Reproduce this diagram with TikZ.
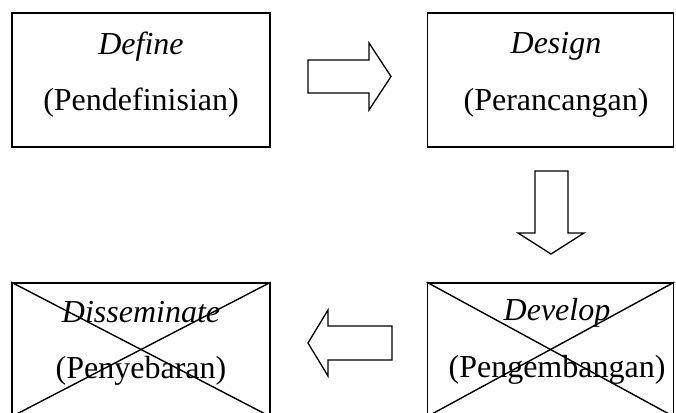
\documentclass[tikz,border=0pt]{standalone}
\usepackage{fontspec}
\setmainfont{Liberation Serif}
\begin{document}
\begin{tikzpicture}[x=1pt,y=-1pt,
  stagebox/.style={draw=black,line width=1.8pt,rectangle,inner sep=0pt},
  crossline/.style={line width=1.4pt},
  blockarrow/.style={draw=black,line width=1.3pt,line join=miter},
  lbl/.style={anchor=base,inner sep=0pt,font=\fontsize{32}{38}\selectfont},
  ilbl/.style={lbl,font=\fontsize{32}{38}\selectfont\itshape}]
\clip (0,0) rectangle (676,412);
\fill[white] (0,0) rectangle (676,412);
% boxes
\node[stagebox,minimum width=258pt,minimum height=134pt] (define) at (141,80) {};
\node[stagebox,minimum width=246pt,minimum height=134pt] (design) at (550.5,80) {};
\node[stagebox,minimum width=246pt,minimum height=133pt] (develop) at (550.5,349.5) {};
\node[stagebox,minimum width=258pt,minimum height=133pt] (dissem) at (141,349.5) {};
% crosses
\draw[crossline] (develop.north west) -- (develop.south east);
\draw[crossline] (develop.south west) -- (develop.north east);
\draw[crossline] (dissem.north west) -- (dissem.south east);
\draw[crossline] (dissem.south west) -- (dissem.north east);
% labels
\node[ilbl] (t1) at (141,54) {Define};
\node[lbl] (t2) at (141,110) {(Pendefinisian)};
\node[ilbl] (t3) at (556,53) {Design};
\node[lbl] (t4) at (556,110) {(Perancangan)};
\node[ilbl] (t5) at (557,320) {Develop};
\node[lbl] (t6) at (557,377) {(Pengembangan)};
\node[ilbl] (t7) at (141,322) {Disseminate};
\node[lbl] (t8) at (141,378) {(Penyebaran)};
% block arrows
\draw[blockarrow] (308,60) -- (369,60) -- (369,43) -- (391,76.5) -- (369,110) -- (369,93) -- (308,93) -- cycle;
\draw[blockarrow] (535,171) -- (568,171) -- (568,233) -- (584,233) -- (551,254) -- (518,233) -- (535,233) -- cycle;
\draw[blockarrow] (392,326) -- (328,326) -- (328,310) -- (308,343) -- (328,376) -- (328,360) -- (392,360) -- cycle;
\end{tikzpicture}
\end{document}
